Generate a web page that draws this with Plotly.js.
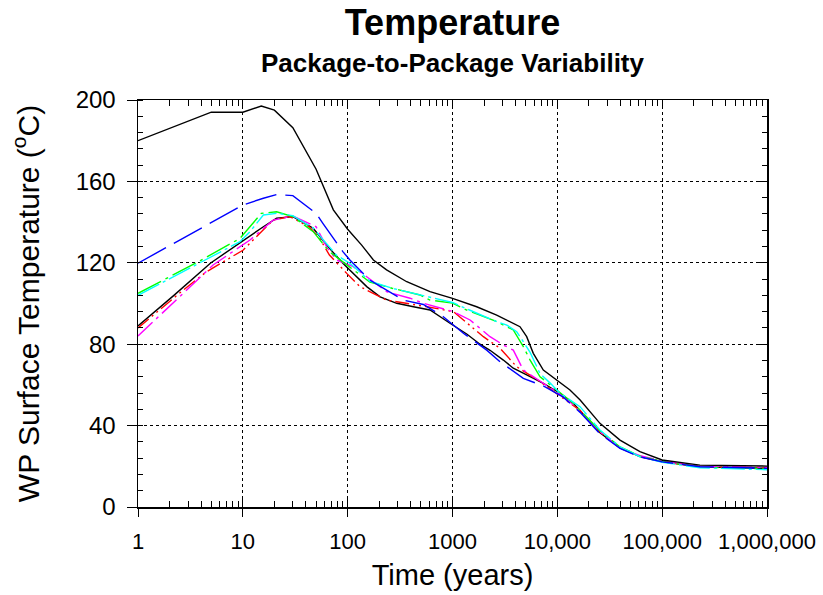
<!DOCTYPE html>
<html>
<head>
<meta charset="utf-8">
<script src="https://cdn.plot.ly/plotly-3.0.1.min.js"></script>
<style>
  html, body { margin: 0; padding: 0; background: #fff; }
  #chart { width: 823px; height: 595px; }
</style>
</head>
<body>
<div id="chart"></div>
<script>
// ---- Data (time in years, temperature in deg C) ----
const blackHighT = [1, 5, 10, 15, 20, 30, 50, 73, 100, 136, 176, 235, 366, 610, 1000, 1700, 2640, 3540, 4400, 5100, 5900, 7350, 9860, 13200, 16500, 25500, 39600, 61400, 100000, 229000, 1000000];
const blackHighV = [180, 194, 194, 197, 195, 186.4, 166, 146, 136.5, 128.7, 121.4, 116.5, 110.7, 105.8, 102.5, 98.4, 94.3, 91.1, 88.6, 83.7, 75.5, 67.3, 62.4, 57.5, 52.6, 41.1, 32.9, 27.2, 23.1, 20.6, 20.1];

const blueT = [1, 10, 15.7, 21, 30, 50, 58, 90, 105, 131, 163, 235, 339, 527, 818, 1270, 2120, 2840, 4740, 7350, 11400, 16500, 25500, 39600, 61400, 100000, 229000, 1000000];
const blueV = [119.8, 148.4, 151.7, 153.5, 153, 144.3, 139.4, 125.5, 121.4, 116.5, 111.5, 106.6, 101.7, 99.5, 93.5, 85.4, 77.1, 71.4, 63.2, 59.5, 54, 46.5, 36, 28.8, 24.6, 22.2, 19.8, 19.0];

const greenT = [1, 3.6, 9.4, 15, 21, 30, 47, 67, 98, 163, 265, 490, 610, 1000, 1366, 2640, 3800, 4740, 5500, 6840, 9860, 14200, 25500, 39600, 61400, 100000, 229000, 1000000];
const greenV = [105, 120, 132, 144.3, 145.1, 142.7, 135.3, 125.5, 119, 110.5, 107.5, 104.2, 101.7, 100.2, 96.8, 91.1, 87, 78.8, 72.2, 64, 57.5, 51, 37.5, 29.5, 25, 22.3, 19.6, 18.8];

const cyanT = [1, 9.4, 11.7, 15.7, 21, 30, 47, 78, 105, 163, 265, 500, 1000, 1450, 2640, 3300, 4100, 4740, 5500, 6300, 6840, 8500, 10600, 16460, 25500, 39600, 61400, 100000, 229000, 1000000];
const cyanV = [104, 130.4, 135.3, 143.5, 144.3, 143.2, 137, 123.8, 119.8, 111, 107.5, 104, 100.5, 96.8, 91.1, 89.4, 86.1, 81.2, 76, 69.5, 65.5, 61, 55.9, 49.3, 37.8, 29.6, 24.7, 22, 19.3, 18.3];

const blackLowT = [1, 2.2, 4.9, 10.1, 15.7, 21, 30, 47, 63, 90, 113, 152, 204, 294, 424, 610, 946, 1366, 1830, 2280, 3055, 3800, 5100, 7350, 10600, 14200, 25500, 39600, 61400, 100000, 229000, 1000000];
const blackLowV = [89, 104, 119.8, 131.2, 137.7, 141.9, 142.7, 137, 128.7, 119.8, 114.8, 108.3, 103.3, 100.1, 98.4, 96.8, 90.3, 85, 80, 77, 72.2, 68.2, 64.9, 60.8, 55.9, 51, 36.5, 29, 24.8, 22.3, 19.8, 19];

const redT = [1, 2.7, 4.5, 7, 10.1, 14, 19.5, 28, 43, 54, 67, 98, 131, 235, 366, 570, 1019, 1970, 2840, 4100, 6840, 10000, 16460, 25500, 39600, 61400, 100000, 229000, 1000000];
const redV = [88, 106.6, 115.6, 121.4, 126.3, 133.7, 141, 142.7, 137.7, 132, 123.8, 114.8, 108.3, 101.7, 100.1, 98.4, 96, 83.7, 78, 68.9, 61.6, 55.5, 47.5, 37, 29, 24.8, 22.2, 19.8, 19.2];

const magentaT = [1, 3.9, 5.2, 11.7, 19.5, 30, 43, 50, 63, 78, 113, 152, 235, 394, 527, 1019, 1470, 2280, 3055, 3800, 4740, 7350, 10600, 16460, 25500, 39600, 61400, 100000, 229000, 1000000];
const magentaV = [84, 113.2, 118.9, 131.2, 141, 143, 139.4, 137.7, 127.9, 121.4, 118.1, 113.2, 105.8, 102.6, 100.1, 96, 91.9, 83.7, 79.6, 77.1, 67.3, 60.8, 55.5, 47.5, 37, 29.2, 25.2, 22.6, 20, 19.5];

const xTickVals = [1, 10, 100, 1000, 10000, 100000, 1000000];
const xTickText = ['1', '10', '100', '1000', '10,000', '100,000', '1,000,000'];
const yTickVals = [0, 40, 80, 120, 160, 200];

// ---- Build ----
const FONT = 'Liberation Sans, Arial, Helvetica, sans-serif';
const minorX = [];
for (let d = 0; d < 6; d++) for (let k = 2; k <= 9; k++) minorX.push(k * Math.pow(10, d));

function series(x, y, color, dash) {
  return { x: x, y: y, type: 'scatter', mode: 'lines', showlegend: false,
           hoverinfo: 'skip', line: { color: color, width: 1.4, dash: dash } };
}

const traces = [
  series(blackLowT, blackLowV, '#000000', 'solid'),
  series(redT, redV, '#ff0000', '14px,4px,2px,4px,2px,4px'),
  series(magentaT, magentaV, '#ff00ff', '20px,5px,3px,5px'),
  series(greenT, greenV, '#00ff00', '26px,5px,3px,5px'),
  series(cyanT, cyanV, '#00ffff', '24px,4px,3px,4px'),
  series(blueT, blueV, '#0000ff', '32px,9px'),
  series(blackHighT, blackHighV, '#000000', 'solid'),
  { x: [null], y: [null], xaxis: 'x2', yaxis: 'y2', type: 'scatter', mode: 'lines',
    showlegend: false, hoverinfo: 'skip' }
];

const xTickFont = { family: FONT, size: 22, color: '#000' };
const yTickFont = { family: FONT, size: 24, color: '#000' };

const layout = {
  width: 823, height: 595,
  margin: { l: 138, r: 56, t: 100, b: 88 },
  paper_bgcolor: '#ffffff', plot_bgcolor: '#ffffff',
  font: { family: FONT, color: '#000' },
  showlegend: false,
  title: { text: '<b>Temperature</b>', font: { family: FONT, size: 36, color: '#000' },
           x: 0.5, xref: 'paper', xanchor: 'center', y: 0.962, yref: 'container', yanchor: 'middle' },
  annotations: [{
    text: '<b>Package-to-Package Variability</b>', xref: 'paper', yref: 'paper',
    x: 0.5, y: 1.09, xanchor: 'center', yanchor: 'middle', showarrow: false,
    font: { family: FONT, size: 26, color: '#000' }
  }],
  xaxis: {
    type: 'log', range: [0, 6], tickmode: 'array', tickvals: xTickVals, ticktext: xTickText,
    ticks: 'outside', ticklen: 8, tickwidth: 1, tickcolor: '#000', ticklabelstandoff: 6,
    showline: true, linecolor: '#000', linewidth: 1.5, mirror: false, zeroline: false,
    showgrid: true, gridcolor: '#000', griddash: 'dot', gridwidth: 1.2,
    minor: { tickmode: 'array', tickvals: minorX, ticks: 'inside', ticklen: 6, tickwidth: 1, tickcolor: '#000', showgrid: false },
    tickfont: xTickFont,
    title: { text: 'Time (years)', font: { family: FONT, size: 29, color: '#000' }, standoff: 12 },
    automargin: false
  },
  xaxis2: {
    type: 'log', range: [0, 6], overlaying: 'x', side: 'top', anchor: 'y2',
    tickmode: 'array', tickvals: xTickVals, showticklabels: false,
    ticks: 'inside', ticklen: 8, tickwidth: 1, tickcolor: '#000',
    showline: true, linecolor: '#000', linewidth: 1.5, mirror: 'allticks',
    showgrid: false, zeroline: false,
    minor: { tickmode: 'array', tickvals: minorX, ticks: 'inside', ticklen: 6, tickwidth: 1, tickcolor: '#000', showgrid: false }
  },
  yaxis: {
    range: [0, 200], tickmode: 'array', tickvals: yTickVals,
    ticks: 'outside', ticklen: 10, tickwidth: 1, tickcolor: '#000', ticklabelstandoff: 6,
    showline: true, linecolor: '#000', linewidth: 1.5, mirror: false, zeroline: false,
    showgrid: true, gridcolor: '#000', griddash: 'dot', gridwidth: 1.2,
    minor: { dtick: 8, tick0: 0, ticks: 'inside', ticklen: 5, tickwidth: 1, tickcolor: '#000', showgrid: false },
    tickfont: yTickFont,
    title: { text: 'WP Surface Temperature (<sup>o</sup>C)', font: { family: FONT, size: 30, color: '#000' }, standoff: 27 },
    automargin: false
  },
  yaxis2: {
    range: [0, 200], overlaying: 'y', side: 'right', anchor: 'x2',
    tickmode: 'array', tickvals: yTickVals, showticklabels: false,
    ticks: 'inside', ticklen: 8, tickwidth: 1, tickcolor: '#000',
    showline: true, linecolor: '#000', linewidth: 1.5, showgrid: false, zeroline: false,
    minor: { dtick: 8, tick0: 0, ticks: 'inside', ticklen: 5, tickwidth: 1, tickcolor: '#000', showgrid: false }
  }
};

Plotly.newPlot('chart', traces, layout, { staticPlot: true, displayModeBar: false });
</script>
</body>
</html>
